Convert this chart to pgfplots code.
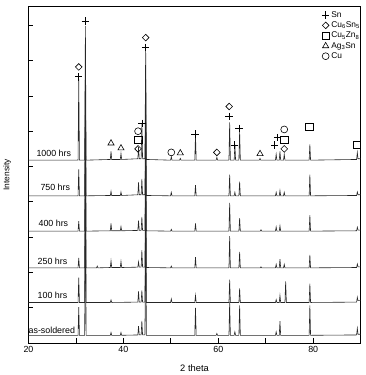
\documentclass[border=0pt]{standalone}
\usepackage{pgfplots}
\pgfplotsset{compat=1.18}
\usepackage{fontspec}
\setmainfont{Liberation Sans}
\begin{document}
\begin{tikzpicture}
\begin{axis}[
  scale only axis, width=336bp, height=340bp,
  xmin=20, xmax=90, ymin=0, ymax=9.52,
  xtick={20,30,...,90}, xticklabels={20,,40,,60,,80,},
  ytick={1,2,...,9}, yticklabels={},
  xtick pos=bottom, ytick pos=left, tick align=inside,
  major tick length=5bp,
  tick style={black, line width=0.8pt},
  axis line style={black, line width=0.9pt},
  ticklabel style={font=\fontsize{9}{10}\selectfont},
  /pgf/number format/assume math mode=true,
  xlabel={2 theta}, ylabel={Intensity},
  xlabel style={font=\fontsize{9.5}{10}\selectfont, at={(rel axis cs:0.5,-0.075)}, anchor=center},
  ylabel style={font=\fontsize{8.5}{10}\selectfont, at={(rel axis cs:-0.064,0.5)}, anchor=center},
  legend style={draw=none, fill=none, at={(rel axis cs:1.004,0.993)}, anchor=north east,
    font=\fontsize{8.5}{9}\selectfont, inner sep=0pt, row sep=-1pt,
    /tikz/every even column/.append style={column sep=0pt}},
  legend cell align=left,
  legend image code/.code={\draw[mark repeat=2,mark phase=2,#1] plot coordinates {(0cm,0cm) (0.15cm,0cm) (0.3cm,0cm)};},
]
% traces
\addplot[black!85, line width=0.6pt, forget plot] coordinates {(20,5.18)(30.45,5.18)(30.6,7.48)(30.75,5.18)(31.85,5.18)(32.0,8.98)(32.15,5.18)(37.25,5.2)(37.4,5.43)(37.55,5.2)(39.35,5.2)(39.5,5.37)(39.65,5.2)(43.05,5.22)(43.2,5.55)(43.35,5.22)(43.75,5.22)(43.9,6.2)(44.05,5.22)(44.55,5.22)(44.7,8.4)(44.85,5.2)(49.95,5.18)(50.1,5.28)(50.25,5.18)(51.85,5.18)(52.0,5.23)(52.15,5.18)(55.05,5.18)(55.2,5.9)(55.35,5.18)(59.55,5.18)(59.7,5.26)(59.85,5.18)(62.25,5.18)(62.4,6.25)(62.55,5.18)(63.35,5.18)(63.5,5.63)(63.65,5.18)(64.35,5.18)(64.5,6.0)(64.65,5.18)(68.65,5.18)(68.8,5.23)(68.95,5.18)(72.05,5.18)(72.2,5.35)(72.35,5.18)(72.85,5.18)(73.0,5.43)(73.15,5.18)(73.75,5.18)(73.9,5.35)(74.05,5.18)(79.15,5.18)(79.3,5.63)(79.45,5.18)(89.15,5.2)(89.3,5.4)(89.45,5.22)(90,5.22)};
\addplot[black!85, line width=0.6pt, forget plot] coordinates {(20,4.17)(30.45,4.17)(30.6,4.92)(30.75,4.17)(31.85,4.17)(32.0,7.97)(32.15,4.17)(37.25,4.18)(37.4,4.3)(37.55,4.18)(39.35,4.18)(39.5,4.28)(39.65,4.18)(43.05,4.2)(43.2,4.55)(43.35,4.2)(43.75,4.2)(43.9,4.65)(44.05,4.2)(44.55,4.2)(44.7,7.67)(44.85,4.18)(49.95,4.17)(50.1,4.27)(50.25,4.17)(55.05,4.17)(55.2,4.47)(55.35,4.17)(62.25,4.17)(62.4,4.77)(62.55,4.17)(63.35,4.17)(63.5,4.27)(63.65,4.17)(64.35,4.17)(64.5,4.57)(64.65,4.17)(72.05,4.17)(72.2,4.27)(72.35,4.17)(72.85,4.17)(73.0,4.32)(73.15,4.17)(73.75,4.17)(73.9,4.27)(74.05,4.17)(79.15,4.17)(79.3,4.77)(79.45,4.17)(89.15,4.18)(89.3,4.28)(89.45,4.2)(90,4.2)};
\addplot[black!85, line width=0.6pt, forget plot] coordinates {(20,3.17)(30.45,3.17)(30.6,3.45)(30.75,3.17)(31.85,3.17)(32.0,6.97)(32.15,3.17)(37.25,3.18)(37.4,3.39)(37.55,3.18)(39.35,3.18)(39.5,3.3)(39.65,3.18)(43.05,3.19)(43.2,3.47)(43.35,3.19)(43.75,3.19)(43.9,3.57)(44.05,3.19)(44.55,3.19)(44.7,6.67)(44.85,3.18)(49.95,3.17)(50.1,3.22)(50.25,3.17)(55.05,3.17)(55.2,3.39)(55.35,3.17)(62.25,3.17)(62.4,3.97)(62.55,3.17)(64.35,3.17)(64.5,3.54)(64.65,3.17)(68.85,3.17)(69.0,3.21)(69.15,3.17)(72.05,3.17)(72.2,3.29)(72.35,3.17)(72.85,3.17)(73.0,3.32)(73.15,3.17)(79.15,3.17)(79.3,3.62)(79.45,3.17)(89.15,3.18)(89.3,3.28)(89.45,3.2)(90,3.2)};
\addplot[black!85, line width=0.6pt, forget plot] coordinates {(20,2.13)(30.45,2.13)(30.6,2.41)(30.75,2.13)(31.85,2.13)(32.0,5.93)(32.15,2.13)(34.35,2.13)(34.5,2.18)(34.65,2.13)(37.25,2.14)(37.4,2.33)(37.55,2.14)(39.35,2.14)(39.5,2.31)(39.65,2.14)(43.05,2.15)(43.2,2.3)(43.35,2.15)(43.75,2.15)(43.9,2.63)(44.05,2.15)(44.55,2.15)(44.7,5.63)(44.85,2.14)(49.95,2.13)(50.1,2.18)(50.25,2.13)(55.05,2.13)(55.2,2.43)(55.35,2.13)(62.25,2.13)(62.4,3.03)(62.55,2.13)(64.35,2.13)(64.5,2.58)(64.65,2.13)(68.85,2.13)(69.0,2.16)(69.15,2.13)(72.05,2.13)(72.2,2.23)(72.35,2.13)(72.85,2.13)(73.0,2.38)(73.15,2.13)(73.75,2.13)(73.9,2.23)(74.05,2.13)(79.15,2.13)(79.3,2.5)(79.45,2.13)(89.15,2.14)(89.3,2.24)(89.45,2.16)(90,2.16)};
\addplot[black!85, line width=0.6pt, forget plot] coordinates {(20,1.15)(30.45,1.15)(30.6,1.85)(30.75,1.15)(31.85,1.15)(32.0,4.95)(32.15,1.15)(37.25,1.15)(37.4,1.22)(37.55,1.15)(43.05,1.16)(43.2,1.46)(43.35,1.16)(43.75,1.16)(43.9,1.49)(44.05,1.16)(44.55,1.16)(44.7,4.65)(44.85,1.15)(49.95,1.15)(50.1,1.25)(50.25,1.15)(55.05,1.15)(55.2,1.35)(55.35,1.15)(62.25,1.15)(62.4,1.8)(62.55,1.15)(64.35,1.15)(64.5,1.55)(64.65,1.15)(72.05,1.15)(72.2,1.23)(72.35,1.15)(72.85,1.15)(73.0,1.35)(73.15,1.15)(74.05,1.15)(74.2,1.75)(74.35,1.15)(79.15,1.15)(79.3,1.68)(79.45,1.15)(89.15,1.16)(89.3,1.3)(89.45,1.2)(90,1.2)};
\addplot[black!85, line width=0.6pt, forget plot] coordinates {(20,0.22)(30.45,0.22)(30.6,1.02)(30.75,0.22)(31.85,0.22)(32.0,4.02)(32.15,0.22)(37.25,0.22)(37.4,0.3)(37.55,0.22)(39.35,0.22)(39.5,0.3)(39.65,0.22)(43.05,0.23)(43.2,0.48)(43.35,0.23)(43.75,0.23)(43.9,0.63)(44.05,0.23)(44.55,0.23)(44.7,3.72)(44.85,0.22)(55.05,0.22)(55.2,1.0)(55.35,0.22)(59.55,0.22)(59.7,0.27)(59.85,0.22)(62.25,0.22)(62.4,1.17)(62.55,0.22)(63.35,0.22)(63.5,0.32)(63.65,0.22)(64.35,0.22)(64.5,1.07)(64.65,0.22)(72.05,0.22)(72.2,0.32)(72.35,0.22)(72.85,0.22)(73.0,0.62)(73.15,0.22)(79.15,0.22)(79.3,1.07)(79.45,0.22)(89.15,0.23)(89.3,0.42)(89.45,0.25)(90,0.25)};
% phase markers
\addplot[only marks, mark=+, mark size=3.8pt, black, mark options={line width=0.7pt}] coordinates {(30.6,7.54)(32.0,9.12)(44.7,8.37)(43.9,6.22)(55.1,5.92)(62.3,6.41)(63.4,5.61)(64.4,6.08)(71.9,5.61)(72.5,5.82)};
\addlegendentry{Sn}
\addplot[only marks, mark=square, mark size=2.4pt, black, mark options={rotate=45, line width=0.6pt}] coordinates {(30.6,7.82)(44.7,8.65)(43.1,5.5)(59.7,5.4)(62.3,6.7)(73.9,5.5)};
\addlegendentry{Cu\textsubscript{6}Sn\textsubscript{5}}
\addplot[only marks, mark=square, mark size=3.8pt, black, mark options={line width=0.6pt}] coordinates {(43.1,5.75)(73.9,5.75)(79.2,6.13)(89.2,5.61)};
\addlegendentry{Cu\textsubscript{5}Zn\textsubscript{8}}
\addplot[only marks, mark=triangle, mark size=3.6pt, black, mark options={line width=0.6pt}] coordinates {(37.4,5.66)(39.5,5.52)(52.0,5.38)(68.8,5.36)};
\addlegendentry{Ag\textsubscript{3}Sn}
\addplot[only marks, mark=o, mark size=3.5pt, black, mark options={line width=0.6pt}] coordinates {(43.1,6.0)(50.1,5.4)(73.9,6.05)};
\addlegendentry{Cu}
% trace labels
\node[anchor=west, inner sep=0pt, font=\fontsize{9}{10}\selectfont] at (axis cs:21.66,5.38) {1000 hrs};
\node[anchor=west, inner sep=0pt, font=\fontsize{9}{10}\selectfont] at (axis cs:22.5,4.4) {750 hrs};
\node[anchor=west, inner sep=0pt, font=\fontsize{9}{10}\selectfont] at (axis cs:22.1,3.39) {400 hrs};
\node[anchor=west, inner sep=0pt, font=\fontsize{9}{10}\selectfont] at (axis cs:21.9,2.32) {250 hrs};
\node[anchor=west, inner sep=0pt, font=\fontsize{9}{10}\selectfont] at (axis cs:21.9,1.35) {100 hrs};
\node[anchor=west, inner sep=0pt, font=\fontsize{9}{10}\selectfont] at (axis cs:20.0,0.37) {as-soldered};
\coordinate (bl) at (rel axis cs:-0.0833,-0.0824);
\coordinate (tr) at (rel axis cs:1.0149,1.0206);
\end{axis}
\path (bl) rectangle (tr);
\end{tikzpicture}
\end{document}
